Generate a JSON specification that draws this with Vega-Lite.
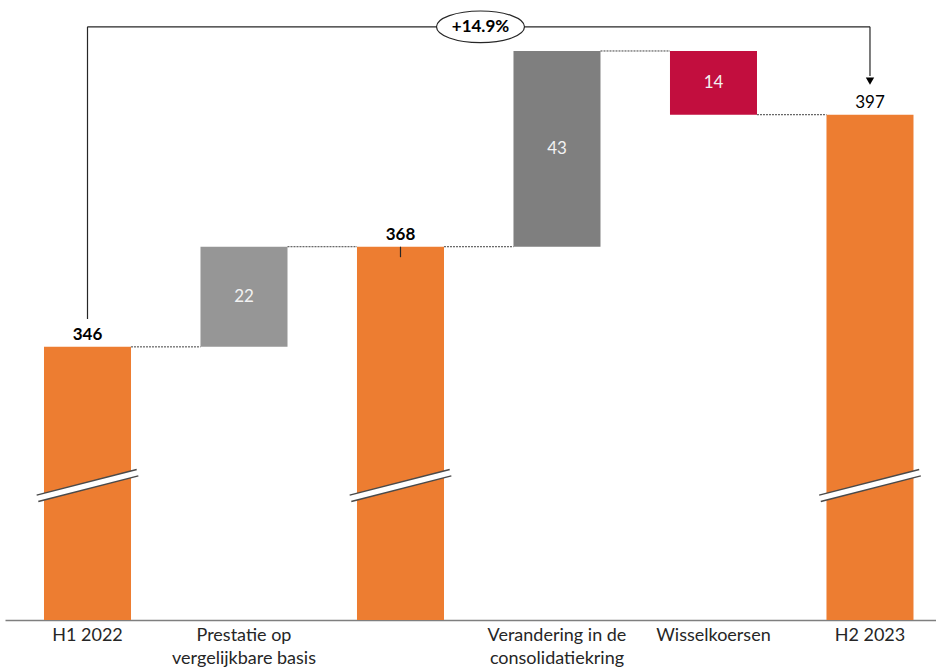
{
  "$schema": "https://vega.github.io/schema/vega-lite/v6.json",
  "width": 931,
  "height": 620,
  "padding": {"left": 5, "top": 0, "right": 0, "bottom": 0},
  "autosize": {"type": "pad"},
  "config": {"view": {"stroke": null}, "font": "Lato"},
  "datasets": {
    "bars": [
      {"cat": "H1 2022", "kind": "total", "hi": 346, "lo": null, "label": "346", "bold": true},
      {"cat": "Prestatie op|vergelijkbare basis", "kind": "organic", "hi": 368, "lo": 346, "label": "22", "bold": false},
      {"cat": " ", "kind": "total", "hi": 368, "lo": null, "label": "368", "bold": true},
      {"cat": "Verandering in de|consolidatiekring", "kind": "scope", "hi": 411, "lo": 368, "label": "43", "bold": false},
      {"cat": "Wisselkoersen", "kind": "fx", "hi": 411, "lo": 397, "label": "14", "bold": false},
      {"cat": "H2 2023", "kind": "total", "hi": 397, "lo": null, "label": "397", "bold": false}
    ],
    "connectors": [
      {"cat": "H1 2022", "cat2": "Prestatie op|vergelijkbare basis", "y": 346},
      {"cat": "Prestatie op|vergelijkbare basis", "cat2": " ", "y": 368},
      {"cat": " ", "cat2": "Verandering in de|consolidatiekring", "y": 368},
      {"cat": "Verandering in de|consolidatiekring", "cat2": "Wisselkoersen", "y": 411},
      {"cat": "Wisselkoersen", "cat2": "H2 2023", "y": 397}
    ],
    "breaks": [
      {"cat": "H1 2022", "ylo": 312.7, "yhi": 318.4},
      {"cat": " ", "ylo": 312.7, "yhi": 318.4},
      {"cat": "H2 2023", "ylo": 312.7, "yhi": 318.4}
    ],
    "bracket": [
      {"cat": "H1 2022", "cat2": "H1 2022", "y": 352.1, "y2": 416.3},
      {"cat": "H1 2022", "cat2": "H2 2023", "y": 416.3, "y2": 416.3},
      {"cat": "H2 2023", "cat2": "H2 2023", "y": 416.3, "y2": 405.5},
      {"cat": " ", "cat2": " ", "y": 368, "y2": 365.7}
    ],
    "arrow": [{"cat": "H2 2023", "y": 404.4}],
    "growth": [{"cat": " ", "y": 416.3, "label": "+14.9%"}]
  },
  "encoding": {
    "x": {
      "field": "cat",
      "type": "nominal",
      "title": null,
      "scale": {
        "domain": ["H1 2022", "Prestatie op|vergelijkbare basis", " ", "Verandering in de|consolidatiekring", "Wisselkoersen", "H2 2023"],
        "paddingInner": 0.444,
        "paddingOuter": 0.1965,
        "align": 0.634
      },
      "axis": {
        "labelExpr": "split(datum.label, '|')",
        "labelAngle": 0,
        "labelFontSize": 18,
        "labelColor": "#262626",
        "labelPadding": 6,
        "labelLineHeight": 23,
        "labelBaseline": "top",
        "ticks": false,
        "domainColor": "#7f7f7f",
        "domainWidth": 1.5,
        "grid": false
      }
    }
  },
  "layer": [
    {
      "data": {"name": "bars"},
      "transform": [{"filter": "datum.kind == 'total'"}],
      "mark": {"type": "bar", "color": "#ED7D31"},
      "encoding": {
        "y": {"field": "hi", "type": "quantitative", "scale": {"domain": [286, 422.2], "nice": false, "zero": false}, "axis": null},
        "y2": {"datum": 286}
      }
    },
    {
      "data": {"name": "bars"},
      "transform": [{"filter": "datum.kind != 'total'"}],
      "mark": {"type": "bar"},
      "encoding": {
        "y": {"field": "hi", "type": "quantitative", "scale": {"domain": [286, 422.2], "nice": false, "zero": false}, "axis": null},
        "y2": {"field": "lo"},
        "color": {"field": "kind", "type": "nominal", "legend": null, "scale": {"domain": ["organic", "scope", "fx"], "range": ["#969696", "#7F7F7F", "#C20E3E"]}}
      }
    },
    {
      "data": {"name": "connectors"},
      "mark": {"type": "rule", "strokeDash": [2, 1], "color": "#404040", "strokeWidth": 1, "xOffset": 43.5, "x2Offset": -43.5},
      "encoding": {
        "x2": {"field": "cat2"},
        "y": {"field": "y", "type": "quantitative", "scale": {"domain": [286, 422.2], "nice": false, "zero": false}, "axis": null}
      }
    },
    {
      "data": {"name": "breaks"},
      "mark": {"type": "rule", "color": "#4a4a4a", "strokeWidth": 8, "xOffset": -50, "x2Offset": 50},
      "encoding": {
        "x2": {"field": "cat"},
        "y": {"field": "ylo", "type": "quantitative", "scale": {"domain": [286, 422.2], "nice": false, "zero": false}, "axis": null},
        "y2": {"field": "yhi"}
      }
    },
    {
      "data": {"name": "breaks"},
      "mark": {"type": "rule", "color": "#ffffff", "strokeWidth": 5, "xOffset": -51, "x2Offset": 51},
      "encoding": {
        "x2": {"field": "cat"},
        "y": {"field": "ylo", "type": "quantitative", "scale": {"domain": [286, 422.2], "nice": false, "zero": false}, "axis": null},
        "y2": {"field": "yhi"}
      }
    },
    {
      "data": {"name": "bracket"},
      "mark": {"type": "rule", "color": "#262626", "strokeWidth": 1.2},
      "encoding": {
        "x2": {"field": "cat2"},
        "y": {"field": "y", "type": "quantitative", "scale": {"domain": [286, 422.2], "nice": false, "zero": false}, "axis": null},
        "y2": {"field": "y2"}
      }
    },
    {
      "data": {"name": "arrow"},
      "mark": {"type": "point", "shape": "triangle-down", "filled": true, "color": "#000000", "size": 70, "opacity": 1},
      "encoding": {
        "y": {"field": "y", "type": "quantitative", "scale": {"domain": [286, 422.2], "nice": false, "zero": false}, "axis": null}
      }
    },
    {
      "data": {"name": "growth"},
      "mark": {"type": "point", "shape": "M-1,0A1,0.36,0,1,1,1,0A1,0.36,0,1,1,-1,0Z", "size": 7744, "filled": true, "fill": "#ffffff", "stroke": "#262626", "strokeWidth": 1.2, "opacity": 1, "xOffset": 80},
      "encoding": {
        "y": {"field": "y", "type": "quantitative", "scale": {"domain": [286, 422.2], "nice": false, "zero": false}, "axis": null}
      }
    },
    {
      "data": {"name": "growth"},
      "mark": {"type": "text", "fontSize": 17, "fontWeight": "bold", "color": "#000000", "xOffset": 80, "baseline": "middle"},
      "encoding": {
        "y": {"field": "y", "type": "quantitative", "scale": {"domain": [286, 422.2], "nice": false, "zero": false}, "axis": null},
        "text": {"field": "label"}
      }
    },
    {
      "data": {"name": "bars"},
      "transform": [{"filter": "datum.kind == 'total' && datum.bold"}],
      "mark": {"type": "text", "fontSize": 17, "fontWeight": "bold", "color": "#000000", "dy": -7, "baseline": "alphabetic"},
      "encoding": {
        "y": {"field": "hi", "type": "quantitative", "scale": {"domain": [286, 422.2], "nice": false, "zero": false}, "axis": null},
        "text": {"field": "label"}
      }
    },
    {
      "data": {"name": "bars"},
      "transform": [{"filter": "datum.kind == 'total' && !datum.bold"}],
      "mark": {"type": "text", "fontSize": 17, "color": "#000000", "dy": -7, "baseline": "alphabetic"},
      "encoding": {
        "y": {"field": "hi", "type": "quantitative", "scale": {"domain": [286, 422.2], "nice": false, "zero": false}, "axis": null},
        "text": {"field": "label"}
      }
    },
    {
      "data": {"name": "bars"},
      "transform": [{"filter": "datum.kind != 'total'"}, {"calculate": "(datum.hi + datum.lo) / 2", "as": "mid"}],
      "mark": {"type": "text", "fontSize": 17, "color": "#F2F2F2", "baseline": "middle"},
      "encoding": {
        "y": {"field": "mid", "type": "quantitative", "scale": {"domain": [286, 422.2], "nice": false, "zero": false}, "axis": null},
        "text": {"field": "label"}
      }
    }
  ]
}
